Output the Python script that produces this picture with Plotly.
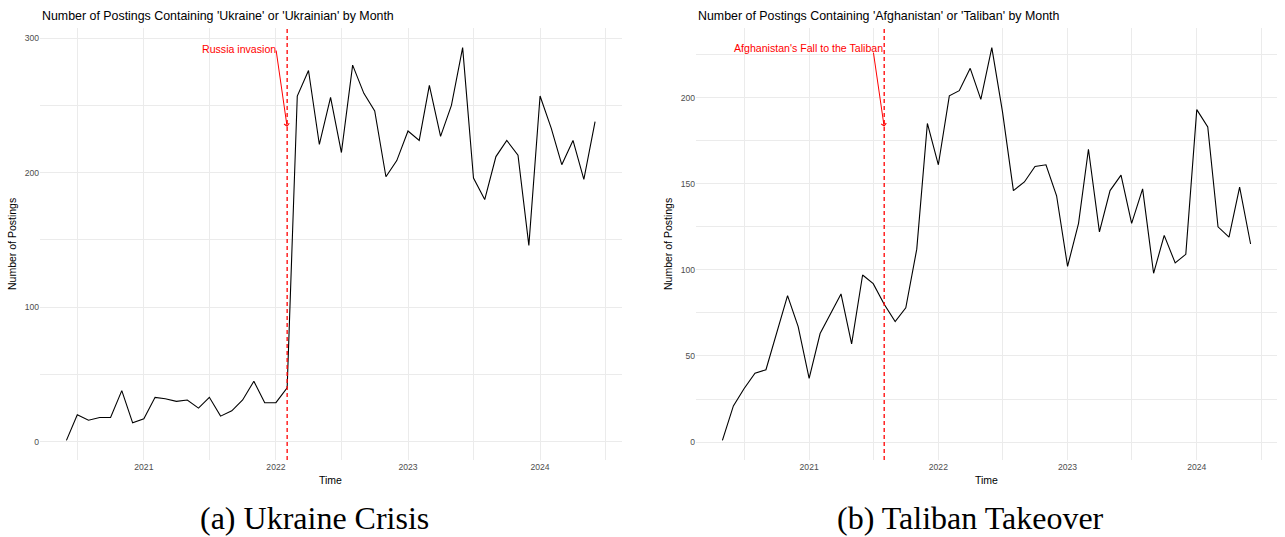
import pandas as pd
import plotly.graph_objects as go

# Monthly posting counts
ukraine_months = pd.date_range("2020-06-01", "2024-06-01", freq="MS")
ukraine_counts = [1, 20, 16, 18, 18, 38, 14, 17, 33, 32, 30, 31, 25, 33, 19, 23, 31, 45, 29, 29, 40,
                  257, 276, 221, 256, 215, 280, 259, 246, 197, 209, 231, 224, 265, 227, 250, 293,
                  196, 180, 212, 224, 213, 146, 257, 233, 206, 224, 195, 238]

taliban_months = pd.date_range("2020-05-01", "2024-06-01", freq="MS")
taliban_counts = [1, 21, 31, 40, 42, 63, 85, 67, 37, 63, 74, 86, 57, 97, 92, 80, 70, 78, 112, 185,
                  161, 201, 204, 217, 199, 229, 192, 146, 151, 160, 161, 143, 102, 127, 170, 122,
                  146, 155, 127, 147, 98, 120, 104, 109, 193, 183, 125, 119, 148, 115]

# Event markers
ukraine_event = "2022-02-01"
ukraine_label = "Russia invasion"
taliban_event = "2021-08-01"
taliban_label = "Afghanistan's Fall to the Taliban"

titles = ["Number of Postings Containing 'Ukraine' or 'Ukrainian' by Month",
          "Number of Postings Containing 'Afghanistan' or 'Taliban' by Month"]
captions = ["(a) Ukraine Crisis", "(b) Taliban Takeover"]

W, H = 1285, 537
SANS = "Liberation Sans, Arial, sans-serif"
SERIF = "Liberation Serif, Times New Roman, serif"
GRID = "#EBEBEB"
RED = "#FF0000"


def padded(lo, hi, frac=0.05):
    span = hi - lo
    return [lo - span * frac, hi + span * frac]


def px_x(p):
    return p / W


def px_y(p):
    return 1 - p / H


fig = go.Figure()
fig.add_trace(go.Scatter(x=ukraine_months, y=ukraine_counts, mode="lines",
                         line=dict(color="black", width=1.1), xaxis="x", yaxis="y",
                         showlegend=False, hoverinfo="skip"))
fig.add_trace(go.Scatter(x=taliban_months, y=taliban_counts, mode="lines",
                         line=dict(color="black", width=1.1), xaxis="x2", yaxis="y2",
                         showlegend=False, hoverinfo="skip"))

ydom = [px_y(460), px_y(28)]
xdom1 = [px_x(40), px_x(621.5)]
xdom2 = [px_x(696), px_x(1277)]

tickfont = dict(family=SANS, size=8.6, color="#4D4D4D")


def xaxis_cfg(dom, months, anchor):
    return dict(domain=dom, anchor=anchor, type="date",
                range=padded(months[0], months[-1]),
                tick0="2021-01-01", dtick="M12", tickformat="%Y",
                showgrid=True, gridcolor=GRID, gridwidth=1,
                minor=dict(showgrid=True, gridcolor=GRID, gridwidth=0.7,
                           tick0="2020-07-01", dtick="M6"),
                ticks="", showline=False, zeroline=False, tickfont=tickfont)


def yaxis_cfg(counts, anchor, dtick, lo=1):
    return dict(domain=ydom, anchor=anchor, range=padded(lo, max(counts)),
                dtick=dtick, tick0=0, showgrid=True, gridcolor=GRID, gridwidth=1,
                minor=dict(showgrid=True, gridcolor=GRID, gridwidth=0.7, dtick=dtick / 2, tick0=0),
                ticks="", showline=False, zeroline=False, tickfont=tickfont)


fig.update_layout(
    width=W, height=H, margin=dict(l=0, r=0, t=0, b=0),
    paper_bgcolor="white", plot_bgcolor="white",
    xaxis=xaxis_cfg(xdom1, ukraine_months, "y"),
    yaxis=yaxis_cfg(ukraine_counts, "x", 100),
    xaxis2=xaxis_cfg(xdom2, taliban_months, "y2"),
    yaxis2=yaxis_cfg(taliban_counts, "x2", 50),
)

# Event lines
for xr, yr, ev in [("x", "y domain", ukraine_event), ("x2", "y2 domain", taliban_event)]:
    fig.add_shape(type="line", xref=xr, yref=yr, x0=ev, x1=ev, y0=0, y1=1,
                  line=dict(color=RED, width=1.3, dash="4px,3px"))

# Event arrows and labels
arrow_style = dict(showarrow=True, arrowhead=4, arrowsize=1, arrowwidth=1,
                   arrowcolor=RED, standoff=0, startstandoff=0, text="")
fig.add_annotation(x=ukraine_event, y=234, ax="2022-01-01", ay=292, xref="x", yref="y",
                   axref="x", ayref="y", **arrow_style)
fig.add_annotation(x="2022-01-01", y=292, xref="x", yref="y", text=ukraine_label,
                   showarrow=False, xanchor="right", yanchor="middle", xshift=2,
                   font=dict(family=SANS, size=10.6, color=RED))
fig.add_annotation(x=taliban_event, y=183, ax="2021-07-01", ay=227, xref="x2", yref="y2",
                   axref="x2", ayref="y2", **arrow_style)
fig.add_annotation(x=taliban_event, y=229, xref="x2", yref="y2", text=taliban_label,
                   showarrow=False, xanchor="right", yanchor="middle", xshift=1,
                   font=dict(family=SANS, size=10.6, color=RED))

# Titles, axis titles and captions
for i, (x0, x1) in enumerate([(40, 621.5), (696, 1277)]):
    fig.add_annotation(x=px_x(x0), y=px_y(16), xref="paper", yref="paper", text=titles[i],
                       showarrow=False, xanchor="left", yanchor="middle",
                       font=dict(family=SANS, size=12.4, color="black"))
    fig.add_annotation(x=px_x((x0 + x1) / 2), y=px_y(480), xref="paper", yref="paper",
                       text="Time", showarrow=False, xanchor="center", yanchor="middle",
                       font=dict(family=SANS, size=10.5, color="black"))
    fig.add_annotation(x=px_x(x0 - 28), y=px_y(244), xref="paper", yref="paper",
                       text="Number of Postings", textangle=-90, showarrow=False,
                       xanchor="center", yanchor="middle",
                       font=dict(family=SANS, size=10.5, color="black"))

fig.add_annotation(x=px_x(314), y=px_y(518), xref="paper", yref="paper", text=captions[0],
                   showarrow=False, xanchor="center", yanchor="middle",
                   font=dict(family=SERIF, size=32, color="black"))
fig.add_annotation(x=px_x(970), y=px_y(518), xref="paper", yref="paper", text=captions[1],
                   showarrow=False, xanchor="center", yanchor="middle",
                   font=dict(family=SERIF, size=32, color="black"))

fig.write_html("out.html")
